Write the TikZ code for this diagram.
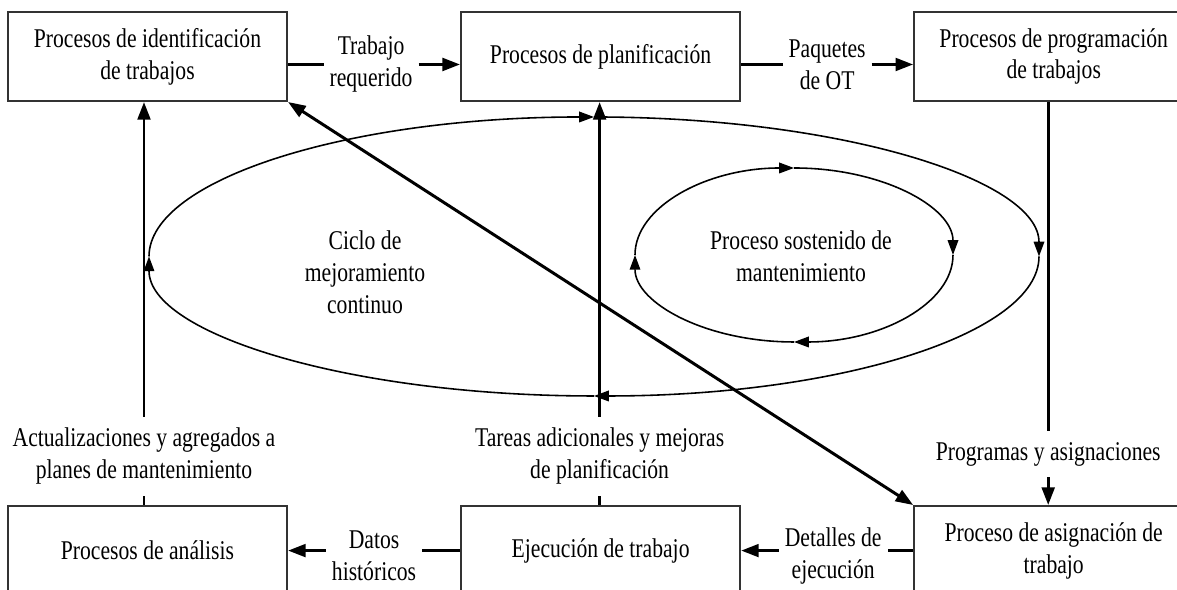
\documentclass[tikz,border=0pt]{standalone}
\usepackage{fontspec}
\setmainfont{Liberation Serif}[FakeStretch=0.8]
\usepackage{tikz}
\usetikzlibrary{arrows.meta,positioning,calc}

\begin{document}
\begin{tikzpicture}[
  node distance=4.03cm and 1.72cm,
  box/.style={rectangle, draw=black!80, line width=0.6pt, fill=white,
    minimum width=2.79cm, minimum height=0.89cm, inner sep=1pt,
    align=center, font=\fontsize{7.7}{9.1}\selectfont},
  lbl/.style={align=center, inner xsep=1.5pt, inner ysep=3pt,
    font=\fontsize{7.7}{9.1}\selectfont},
  arr/.style={-{Triangle[length=5pt,width=3.6pt]}, line width=0.85pt},
  dbl/.style={{Triangle[length=5pt,width=3.6pt]}-{Triangle[length=5pt,width=3.6pt]}, line width=0.85pt},
  seg/.style={line width=0.85pt},
  cyc/.style={-{Triangle[length=4.2pt,width=3pt]}, line width=0.45pt}
]
  \useasboundingbox (0,0) rectangle (11.77,5.90);
  \clip (0,0) rectangle (11.77,5.90);

  \node[box] (ident) at (1.475,5.335) {Procesos de identificación\\de trabajos};
  \node[box, right=of ident] (plan) {Procesos de planificación};
  \node[box, right=of plan]  (prog) {Procesos de programación\\de trabajos};
  \node[box, below=of ident] (anal) {Procesos de análisis};
  \node[box, below=of plan]  (ejec) {Ejecución de trabajo};
  \node[box, below=of prog]  (asig) {Proceso de asignación de\\trabajo};

  % ciclos
  \coordinate (big) at (5.94,3.335);
  \coordinate (small) at (7.94,3.35);
  \foreach \a in {180,90,0,-90} {
    \draw[cyc] (big) ++(\a:4.45 and 1.395)
      arc[start angle=\a, delta angle=-90, x radius=4.45, y radius=1.395];
    \draw[cyc] (small) ++(\a:1.59 and 0.87)
      arc[start angle=\a, delta angle=-90, x radius=1.59, y radius=0.87];
  }
  \node[lbl] (ciclo) at (3.65,3.18) {Ciclo de\\mejoramiento\\continuo};
  \node[lbl] (sost)  at (8.01,3.34) {Proceso sostenido de\\mantenimiento};

  % flujos superiores
  \node[lbl] (trab) at ($(ident.east)!.5!(plan.west)+(-0.03,-0.08)$) {Trabajo\\requerido};
  \draw[seg] (ident.east |- trab) -- (trab);
  \draw[arr] (trab) -- (plan.west |- trab);
  \node[lbl] (paq) at ($(plan.east)!.5!(prog.west)+(0,-0.08)$) {Paquetes\\de OT};
  \draw[seg] (plan.east |- paq) -- (paq);
  \draw[arr] (paq) -- (prog.west |- paq);

  % flujos inferiores
  \node[lbl] (dat) at ($(ejec.west)!.5!(anal.east)+(0,-0.05)$) {Datos\\históricos};
  \draw[seg] (ejec.west) -- (ejec.west -| dat.east);
  \draw[arr] (ejec.west -| dat.west) -- (anal.east);
  \node[lbl] (det) at ($(asig.west)!.5!(ejec.east)+(0.06,-0.05)$) {Detalles de\\ejecución};
  \draw[seg] (asig.west) -- (asig.west -| det.east);
  \draw[arr] (asig.west -| det.west) -- (ejec.east);

  % flujos verticales
  \node[lbl] (act) at ($(anal.north)+(-0.035,0.49)$) {Actualizaciones y agregados a\\planes de mantenimiento};
  \draw[seg] (anal.north -| act) -- (act);
  \draw[arr] (act) -- (ident.south -| act);
  \node[lbl] (tar) at ($(ejec.north)+(-0.01,0.49)$) {Tareas adicionales y mejoras\\de planificación};
  \draw[seg] (ejec.north -| tar) -- (tar);
  \draw[arr] (tar) -- (plan.south -| tar);
  \node[lbl] (pgm) at ($(asig.north)+(-0.055,0.51)$) {Programas y asignaciones};
  \draw[seg] (prog.south -| pgm) -- (pgm);
  \draw[arr] (pgm) -- (asig.north -| pgm);

  \draw[dbl] (ident.south east) -- (asig.north west);
\end{tikzpicture}
\end{document}
